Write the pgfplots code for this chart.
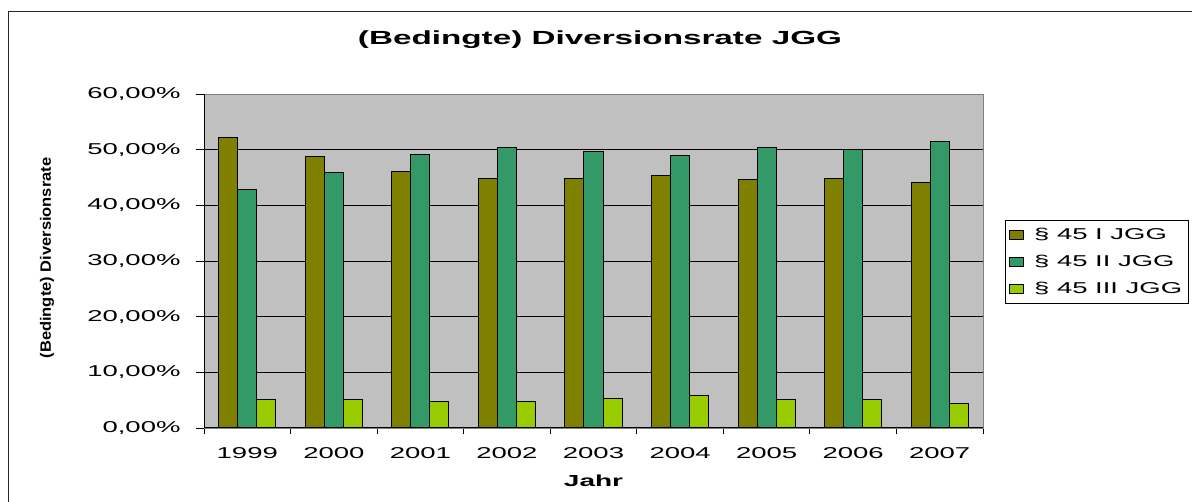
\documentclass[border=0pt]{standalone}
\usepackage{pgfplots}
\pgfplotsset{compat=1.18}
\usepackage{fontspec}
\setmainfont{Liberation Sans}[FakeStretch=1.75]
\newfontfamily\ylabfont{Liberation Sans}[FakeStretch=1.1]
\definecolor{olivebar}{HTML}{808000}
\definecolor{greenbar}{HTML}{339966}
\definecolor{limebar}{HTML}{99CC00}
\definecolor{plotbg}{HTML}{C0C0C0}
\definecolor{framegray}{HTML}{808080}
\pgfplotstableread{
x  a     b     c
0  52.1  42.8  5.16
1  48.7  45.9  5.16
2  46.15 49.1  4.69
3  44.8  50.3  4.69
4  44.8  49.75 5.34
5  45.4  48.9  5.8
6  44.6  50.3  5.16
7  44.8  50.05 5.16
8  44.1  51.4  4.43
}\datatable
\begin{document}
\begin{tikzpicture}[x=1bp,y=1bp]
\useasboundingbox (0,0) rectangle (1192,502);
\draw[line width=1bp, black!85] (8.5,0) -- (8.5,490.5) -- (1192,490.5);
\node[font=\fontsize{19bp}{22bp}\selectfont\bfseries, anchor=base] at (600,457) {(Bedingte) Diversionsrate JGG};
\node[rotate=90, font=\ylabfont\bfseries\fontsize{15bp}{18bp}\selectfont] at (47,244) {(Bedingte) Diversionsrate};
\node[font=\fontsize{16bp}{19bp}\selectfont\bfseries, anchor=base] at (593.5,15.5) {Jahr};
\begin{axis}[
  at={(204bp,74bp)}, anchor=south west, scale only axis,
  width=779bp, height=334bp,
  xmin=-0.5, xmax=8.5, ymin=0, ymax=60,
  axis background/.style={fill=plotbg},
  axis line style={draw=framegray, line width=0.8bp},
  ybar=0pt, bar width=0.22,
  xtick={0,...,8},
  xticklabels={1999,2000,2001,2002,2003,2004,2005,2006,2007},
  minor xtick={-0.5,0.5,...,8.5},
  major x tick style={draw=none},
  ytick={0,10,...,60},
  yticklabels={{0,00\%},{10,00\%},{20,00\%},{30,00\%},{40,00\%},{50,00\%},{60,00\%}},
  tick align=outside, major tick length=8bp, minor tick length=6bp,
  xtick pos=bottom, ytick pos=left,
  every tick/.style={black, line width=0.8bp},
  ymajorgrids, major grid style={black, line width=0.8bp},
  tick label style={font=\fontsize{15.7bp}{18bp}\selectfont},
  xticklabel style={yshift=-8bp},
  yticklabel style={xshift=-12bp},
  /pgf/number format/assume math mode=true,
  legend style={at={(1.028,0.6228)}, anchor=north west, draw=black, line width=0.8bp,
    fill=white, font=\fontsize{15.7bp}{18bp}\selectfont, row sep=10bp,
    inner xsep=4bp, inner ysep=6bp},
  legend cell align=left,
  legend image code/.code={\draw[#1, line width=0.8bp] (0bp,-4.5bp) rectangle (14bp,4.5bp);\path (22bp,0bp);},
]
\addplot[fill=olivebar, draw=black, line width=1bp, bar shift=-0.22] table[x=x, y=a] {\datatable};
\addplot[fill=greenbar, draw=black, line width=1bp, bar shift=0] table[x=x, y=b] {\datatable};
\addplot[fill=limebar, draw=black, line width=1bp, bar shift=0.22] table[x=x, y=c] {\datatable};
\legend{\S\ 45 I JGG, \S\ 45 II JGG, \S\ 45 III JGG}
\draw[framegray, line width=0.8bp] (rel axis cs:0,1) -- (rel axis cs:1,1) -- (rel axis cs:1,0);
\draw[black, line width=1bp] (rel axis cs:0,1) -- (rel axis cs:0,0) -- (rel axis cs:1,0);
\end{axis}
\end{tikzpicture}
\end{document}
